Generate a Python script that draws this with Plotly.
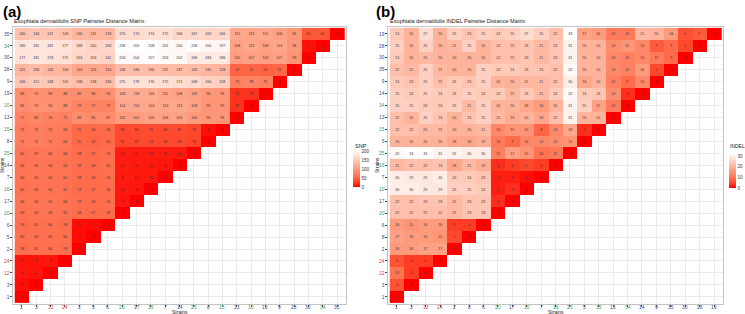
import plotly.graph_objects as go

# ---------------- data ----------------
snp_strains = ["1", "3", "12", "24", "2", "5", "6", "20", "17", "16", "7", "14",
               "25", "8", "15", "13", "10", "19", "9", "28", "30", "34", "35"]
indel_strains = ["1", "3", "12", "24", "2", "8", "6", "20", "17", "10", "7", "16",
                 "25", "5", "15", "13", "34", "14", "9", "35", "30", "28", "19"]

green_strains = ["34", "15", "25", "16", "10", "20"]
red_strains = ["12", "24"]

snp_ticks = [0, 50, 100, 150, 200]
indel_ticks = [0, 10, 20, 30]

# lower-triangle rows (row r holds the distances to columns 0..r)
snp_r00 = [0]
snp_r01 = [6, 0]
snp_r02 = [9, 8, 0]
snp_r03 = [8, 8, 9, 0]
snp_r04 = [58, 61, 60, 59, 0]
snp_r05 = [60, 62, 61, 60, 5, 0]
snp_r06 = [59, 61, 60, 58, 6, 5, 0]
snp_r07 = [63, 65, 64, 62, 58, 57, 58, 0]
snp_r08 = [64, 66, 65, 63, 59, 58, 59, 9, 0]
snp_r09 = [62, 64, 63, 61, 57, 57, 58, 10, 9, 0]
snp_r10 = [63, 65, 64, 62, 58, 58, 59, 11, 10, 10, 0]
snp_r11 = [64, 66, 64, 63, 59, 58, 60, 12, 11, 10, 9, 0]
snp_r12 = [65, 67, 66, 64, 58, 57, 59, 12, 11, 12, 11, 10, 0]
snp_r13 = [71, 75, 71, 68, 55, 52, 55, 32, 33, 34, 33, 34, 31, 0]
snp_r14 = [71, 75, 72, 69, 55, 56, 56, 33, 34, 35, 34, 35, 32, 6, 0]
snp_r15 = [77, 80, 76, 75, 89, 86, 87, 102, 102, 109, 108, 109, 100, 96, 96, 0]
snp_r16 = [86, 91, 90, 88, 79, 77, 77, 114, 114, 113, 113, 113, 108, 95, 95, 21, 0]
snp_r17 = [88, 91, 89, 88, 89, 88, 90, 118, 118, 118, 111, 108, 107, 98, 96, 21, 21, 0]
snp_r18 = [146, 151, 148, 145, 138, 138, 136, 175, 178, 176, 175, 171, 168, 160, 158,
           75, 78, 75, 0]
snp_r19 = [131, 136, 130, 130, 114, 114, 114, 136, 136, 136, 137, 137, 135, 131, 128,
           51, 51, 50, 52, 0]
snp_r20 = [177, 181, 178, 175, 163, 163, 161, 203, 204, 207, 203, 202, 186, 184, 186,
           105, 107, 103, 107, 93, 0]
snp_r21 = [180, 181, 181, 177, 168, 160, 163, 208, 209, 208, 202, 200, 208, 200, 197,
           108, 113, 108, 113, 98, 7, 0]
snp_r22 = [140, 146, 147, 143, 130, 131, 133, 170, 170, 174, 175, 166, 167, 163, 166,
           115, 113, 115, 106, 96, 42, 42, 0]

indel_r00 = [0]
indel_r01 = [6, 0]
indel_r02 = [10, 4, 0]
indel_r03 = [6, 4, 4, 0]
indel_r04 = [16, 16, 17, 17, 0]
indel_r05 = [17, 16, 16, 15, 5, 0]
indel_r06 = [16, 15, 16, 16, 4, 4, 0]
indel_r07 = [22, 22, 22, 22, 21, 23, 23, 0]
indel_r08 = [22, 22, 23, 23, 21, 23, 23, 3, 0]
indel_r09 = [30, 30, 29, 29, 25, 25, 24, 2, 3, 0]
indel_r10 = [30, 29, 29, 30, 24, 24, 23, 2, 2, 1, 0]
indel_r11 = [21, 22, 22, 23, 18, 21, 19, 3, 4, 5, 4, 0]
indel_r12 = [32, 33, 33, 31, 31, 30, 30, 12, 17, 15, 10, 11, 0]
indel_r13 = [20, 20, 20, 20, 18, 18, 19, 11, 9, 13, 13, 14, 15, 0]
indel_r14 = [22, 22, 21, 21, 20, 20, 21, 13, 15, 15, 8, 13, 18, 3, 0]
indel_r15 = [22, 20, 25, 23, 20, 23, 25, 21, 19, 20, 18, 22, 31, 20, 20, 0]
indel_r16 = [25, 25, 24, 24, 25, 21, 25, 20, 20, 18, 16, 20, 31, 25, 17, 11, 0]
indel_r17 = [25, 24, 25, 24, 24, 25, 24, 24, 21, 24, 21, 24, 32, 24, 23, 14, 3, 0]
indel_r18 = [24, 23, 25, 22, 24, 23, 25, 20, 20, 21, 21, 22, 30, 18, 20, 12, 9, 13, 0]
indel_r19 = [22, 21, 25, 21, 20, 20, 25, 24, 24, 23, 23, 22, 32, 20, 20, 13, 12, 16, 5, 0]
indel_r20 = [24, 20, 21, 20, 20, 20, 20, 22, 22, 23, 21, 23, 31, 20, 20, 13, 12, 13, 11,
             9, 0]
indel_r21 = [25, 20, 25, 20, 21, 25, 20, 22, 22, 23, 21, 23, 31, 20, 20, 14, 15, 13, 7,
             9, 5, 0]
indel_r22 = [24, 20, 27, 20, 25, 23, 25, 24, 25, 27, 25, 22, 33, 17, 16, 11, 11, 21, 20,
             16, 6, 7, 0]

snp_rows = [snp_r00, snp_r01, snp_r02, snp_r03, snp_r04, snp_r05, snp_r06, snp_r07,
            snp_r08, snp_r09, snp_r10, snp_r11, snp_r12, snp_r13, snp_r14, snp_r15,
            snp_r16, snp_r17, snp_r18, snp_r19, snp_r20, snp_r21, snp_r22]
indel_rows = [indel_r00, indel_r01, indel_r02, indel_r03, indel_r04, indel_r05, indel_r06,
              indel_r07, indel_r08, indel_r09, indel_r10, indel_r11, indel_r12, indel_r13,
              indel_r14, indel_r15, indel_r16, indel_r17, indel_r18, indel_r19, indel_r20,
              indel_r21, indel_r22]

# ---------------- helpers ----------------
FONT = "Liberation Sans, Arial, sans-serif"
NAVY = "#34458F"
GREEN = "#2E9A5E"
RED = "#D43A3A"


def label_color(s):
    if s in green_strains:
        return GREEN
    if s in red_strains:
        return RED
    return NAVY


def build(rows):
    n = len(rows)
    z = [[None] * n for _ in range(n)]
    t = [[""] * n for _ in range(n)]
    for r, row in enumerate(rows):
        for c, v in enumerate(row):
            z[r][c] = v
            t[r][c] = str(v)
    return z, t


def ticktext(strains):
    return ['<span style="color:%s">%s</span>' % (label_color(s), s) for s in strains]


colorscale = [
    [0.0, "rgb(255,0,0)"],
    [0.125, "rgb(255,62,37)"],
    [0.25, "rgb(255,103,70)"],
    [0.375, "rgb(255,132,100)"],
    [0.5, "rgb(255,158,129)"],
    [0.625, "rgb(255,183,160)"],
    [0.75, "rgb(255,207,191)"],
    [0.875, "rgb(255,231,223)"],
    [1.0, "rgb(255,255,255)"],
]

W, H = 745, 314
n = len(snp_strains)
idx = list(range(n))

z1, t1 = build(snp_rows)
z2, t2 = build(indel_rows)
snp_max = max(max(r) for r in snp_rows)
indel_max = max(max(r) for r in indel_rows)

fig = go.Figure()


def cbar(ticks, xpix, ytop, ybot):
    return dict(
        tickvals=ticks, ticks="", tickfont=dict(size=4.5, family=FONT, color="#333"),
        thickness=7, thicknessmode="pixels",
        len=ybot - ytop, lenmode="pixels",
        x=xpix / W, xanchor="left", y=1 - ybot / H, yanchor="bottom",
        xpad=0, ypad=0, outlinewidth=0,
    )


fig.add_trace(go.Heatmap(
    z=z1, x=idx, y=idx, text=t1, texttemplate="%{text}",
    textfont=dict(size=3.6, family=FONT, color="#333"),
    colorscale=colorscale, zmin=0, zmax=snp_max, hoverongaps=False,
    colorbar=cbar(snp_ticks, 352.7, 150, 187),
    xaxis="x", yaxis="y",
))
fig.add_trace(go.Heatmap(
    z=z2, x=idx, y=idx, text=t2, texttemplate="%{text}",
    textfont=dict(size=3.6, family=FONT, color="#333"),
    colorscale=colorscale, zmin=0, zmax=indel_max, hoverongaps=False,
    colorbar=cbar(indel_ticks, 729, 153, 188),
    xaxis="x2", yaxis="y2",
))

ydom = [1 - 304 / H, 1 - 26.7 / H]


def axis(dom, labels, anchor, labels_on=True):
    return dict(
        domain=dom, range=[-0.6, n - 0.4], tickvals=idx, ticktext=ticktext(labels),
        showticklabels=labels_on,
        tickfont=dict(size=4.8, family=FONT), showgrid=True, gridcolor="#EBEBEB",
        gridwidth=0.6, zeroline=False, showline=True, mirror=True, linecolor="#C4C4C4",
        linewidth=0.8, ticks="outside", ticklen=2, tickwidth=0.5, tickcolor="#444",
        anchor=anchor, automargin=False, fixedrange=True,
    )


fig.update_layout(
    width=W, height=H, margin=dict(l=0, r=0, t=0, b=0),
    paper_bgcolor="white", plot_bgcolor="white",
    font=dict(family=FONT),
    xaxis=axis([13.3 / W, 345.7 / W], snp_strains, "y", False),
    yaxis=axis(ydom, snp_strains, "x"),
    xaxis2=axis([388.3 / W, 722.7 / W], indel_strains, "y2", False),
    yaxis2=axis(ydom, indel_strains, "x2"),
    showlegend=False,
)

annos = [
    dict(text="<b>(a)</b>", x=1 / W, y=1 - 0.5 / H, xanchor="left", yanchor="top",
         font=dict(size=15, family=FONT, color="black")),
    dict(text="<b>(b)</b>", x=374 / W, y=1 - 0.5 / H, xanchor="left", yanchor="top",
         font=dict(size=15, family=FONT, color="black")),
    dict(text="Exophiala dermatitidis SNP Pairwise Distance Matrix", x=12 / W,
         y=1 - 20.7 / H, xanchor="left", yanchor="middle",
         font=dict(size=5.6, family=FONT, color="#222")),
    dict(text="Exophiala dermatitidis INDEL Pairwise Distance Matrix", x=387.5 / W,
         y=1 - 20.7 / H, xanchor="left", yanchor="middle",
         font=dict(size=5.6, family=FONT, color="#222")),
    dict(text="Strains", x=179.5 / W, y=1 - 311.5 / H, xanchor="center", yanchor="middle",
         font=dict(size=5, family=FONT, color="#222")),
    dict(text="Strains", x=555.5 / W, y=1 - 311.5 / H, xanchor="center", yanchor="middle",
         font=dict(size=5, family=FONT, color="#222")),
    dict(text="Strains", x=2.2 / W, y=1 - 165 / H, xanchor="center", yanchor="middle",
         textangle=-90, font=dict(size=5, family=FONT, color="#222")),
    dict(text="Strains", x=377 / W, y=1 - 165 / H, xanchor="center", yanchor="middle",
         textangle=-90, font=dict(size=5, family=FONT, color="#222")),
    dict(text="SNP", x=352.5 / W, y=1 - 145.5 / H, xanchor="left", yanchor="middle",
         font=dict(size=5.5, family=FONT, color="#222")),
    dict(text="INDEL", x=728 / W, y=1 - 146 / H, xanchor="left", yanchor="middle",
         font=dict(size=5, family=FONT, color="#222")),
]
for a in annos:
    a.update(xref="paper", yref="paper", showarrow=False)

# x tick labels as text under each column
for xref, labels in (("x", snp_strains), ("x2", indel_strains)):
    for i, s in enumerate(labels):
        annos.append(dict(
            text=s, x=i, xref=xref, y=1 - 307.5 / H, yref="paper",
            xanchor="center", yanchor="middle", showarrow=False,
            font=dict(size=4.8, family=FONT, color=label_color(s)),
        ))

fig.update_layout(annotations=annos)

fig.write_html(
    "out.html",
    config={"displayModeBar": False},
    post_script="document.body.style.margin='0';document.body.style.overflow='hidden';",
)
